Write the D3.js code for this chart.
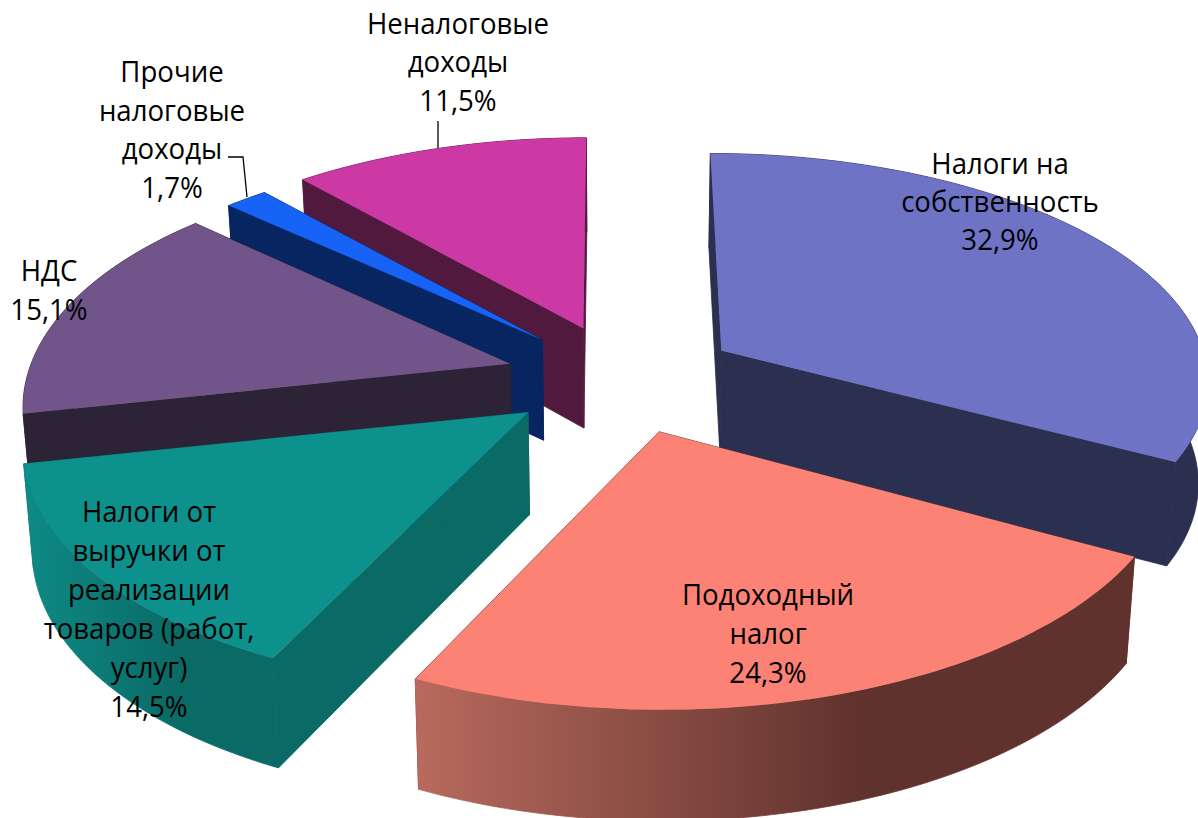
<!DOCTYPE html>
<html>
<head>
<meta charset="utf-8">
<script src="https://cdn.jsdelivr.net/npm/d3@7"></script>
<style>
  html, body { margin: 0; background: #fff; }
  text { font-family: "Open Sans", "Noto Sans", sans-serif; font-size: 30px; fill: #000; }
</style>
</head>
<body>
<svg id="chart" width="1198" height="818"></svg>
<script>
// данные: доли, по часовой стрелке от верхней точки
const categories = [
    ["Налоги на", "собственность"],
    ["Подоходный", "налог"],
    ["Налоги от", "выручки от", "реализации", "товаров (работ,", "услуг)"],
    ["НДС"],
    ["Прочие", "налоговые", "доходы"],
    ["Неналоговые", "доходы"]
];
const shares = [32.9, 24.3, 14.5, 15.1, 1.7, 11.5];

// цвета: верх, боковая стенка, дуга слева, дуга справа
const topColors = ["#6e73c6", "#fb8274", "#0d918c", "#71558a", "#1763f5", "#cc39a5"];
const sideColors = ["#2b2f50", "#62332e", "#0a6a66", "#2d2336", "#072560", "#52193f"];
const arcLeft = ["#2b2f50", "#b86a5d", "#0e8a85", "#2d2336", "#072560", "#52193f"];
const arcRight = ["#2b2f50", "#60322d", "#0a6a66", "#2d2336", "#072560", "#52193f"];

// геометрия: исходная картинка не совсем правильная 3D-проекция, поэтому поправки по секторам
const center = [620, 376];
const radiusX = 472, radiusY = 230;
const explode = 0.25;
const persp = [0.12, 0.1, 0.12, 0.182, 0.182, 0.182];
const radiusScale = [1.02, 1.0875, 1.06, 1.015, 1.012, 1.03];
const flatten = [0.941, 1, 1, 1, 0.96, 0.95];
const skew = [11, 3, -11, 0, 0, -3];
const nudge = [[0, 4], [3, 1], [1, 1], [4, 3], [5, 5], [5, 6]];
// подписи: центр по x и базовая линия первой строки
const labelX = [1000, 768, 149, 49, 172, 458];
const labelY = [174, 605, 522, 281, 82, 34];
const lineGap = [38, 39, 39, 39, 38.7, 38.5];
const leaders = [
    [[228, 157], [243, 157], [247, 197]],
    [[438, 121], [438, 148]]
];

const svg = d3.select("#chart");
const defs = svg.append("defs");
const line = d3.line();
const pie = d3.pie().sort(null).value(d => d);
const slices = pie(shares);

// точка на верхней плоскости относительно вершины сектора
function project(angle, i) {
    let u = Math.sin(angle), v = -Math.cos(angle);
    let s = 1 / (1 - persp[i] * v);
    let r = radiusScale[i];
    return [radiusX * r * u * s + skew[i] * v, radiusY * r * flatten[i] * v * s];
}

// нижняя грань: немного сжата к центру и ниже
function drop(p) {
    return [center[0] + (p[0] - center[0]) * 0.984, p[1] * 1.03 + 90];
}

const geom = slices.map((d, i) => {
    let mid = (d.startAngle + d.endAngle) / 2;
    let apex = [
        center[0] + explode * radiusX * Math.sin(mid) + nudge[i][0],
        center[1] - explode * radiusY * Math.cos(mid) + nudge[i][1]
    ];
    let n = Math.max(4, Math.ceil((d.endAngle - d.startAngle) * 40));
    let arc = d3.range(n + 1).map(k => {
        let a = d.startAngle + (d.endAngle - d.startAngle) * k / n;
        let p = project(a, i);
        return [apex[0] + p[0], apex[1] + p[1]];
    });
    return {i, apex, arc};
});

// порядок отрисовки: от дальних секторов к ближним
const order = [5, 4, 3, 0, 2, 1];
order.forEach(i => {
    let g = geom[i];
    let first = g.arc[0], last = g.arc[g.arc.length - 1];
    let wall = pts => line(pts) + "Z";

    let grad = defs.append("linearGradient")
        .attr("id", `arc${i}`)
        .attr("gradientUnits", "userSpaceOnUse")
        .attr("x1", d3.min(g.arc, p => p[0])).attr("x2", d3.max(g.arc, p => p[0]))
        .attr("y1", 0).attr("y2", 0);
    grad.append("stop").attr("offset", 0).attr("stop-color", arcLeft[i]);
    grad.append("stop").attr("offset", 0.62).attr("stop-color", arcRight[i]);

    // обводка в цвет стенки, чтобы между полигонами не было светлых швов
    svg.append("path").attr("d", wall([g.apex, first, drop(first), drop(g.apex)]))
        .attr("fill", sideColors[i]).attr("stroke", sideColors[i]).attr("stroke-width", 0.8);
    svg.append("path").attr("d", wall([g.apex, last, drop(last), drop(g.apex)]))
        .attr("fill", sideColors[i]).attr("stroke", sideColors[i]).attr("stroke-width", 0.8);
    svg.append("path")
        .attr("d", wall(g.arc.concat(g.arc.map(drop).reverse())))
        .attr("fill", `url(#arc${i})`).attr("stroke", `url(#arc${i})`).attr("stroke-width", 0.8);
    svg.append("path")
        .attr("d", wall([g.apex].concat(g.arc)))
        .attr("fill", topColors[i]);
});

// выноски
svg.selectAll("path.leader")
    .data(leaders)
    .join("path")
    .attr("class", "leader")
    .attr("d", d => line(d))
    .attr("fill", "none")
    .attr("stroke", "#000")
    .attr("stroke-width", 1.3);

// подписи
const format = v => d3.format(".1f")(v).replace(".", ",") + "%";
slices.forEach((d, i) => {
    let lines = categories[i].concat(format(shares[i]));
    let t = svg.append("text")
        .attr("text-anchor", "middle")
        .attr("transform", `translate(${labelX[i]},${labelY[i]}) scale(0.92,1)`);
    t.selectAll("tspan")
        .data(lines)
        .join("tspan")
        .attr("x", 0)
        .attr("y", (l, k) => k * lineGap[i])
        .text(l => l);
});
</script>
</body>
</html>
